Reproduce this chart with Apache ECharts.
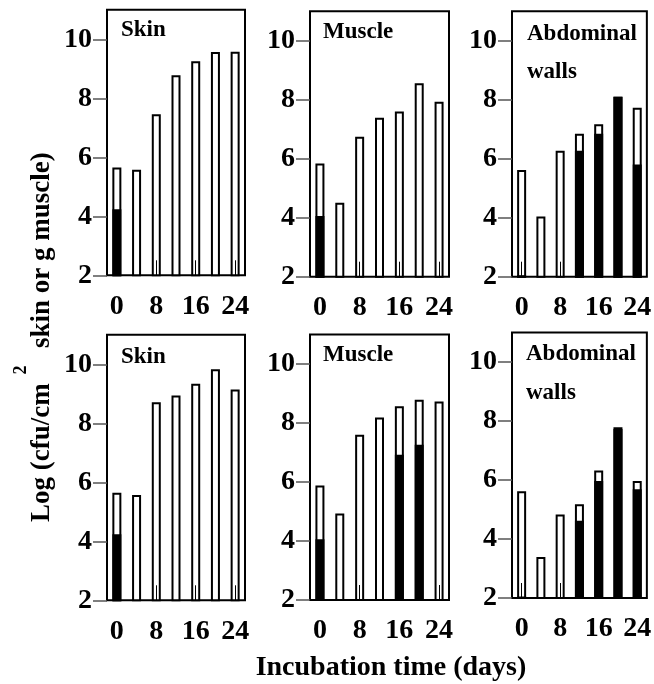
<!DOCTYPE html>
<html>
<head>
<meta charset="utf-8">
<script src="https://cdn.jsdelivr.net/npm/echarts@6/dist/echarts.min.js"></script>
<style>
  html, body { margin: 0; padding: 0; background: #fff; }
  #chart { width: 654px; height: 684px; }
</style>
</head>
<body>
<div id="chart"></div>
<script>
// Incubation time categories (days) and the tick labels shown under each panel
const days = ['0', '4', '8', '12', '16', '20', '24'];
const yTickValues = [2, 4, 6, 8, 10];

// Panel names
const panelNames = ['Skin', 'Muscle', 'Abdominal\nwalls', 'Skin', 'Muscle', 'Abdominal\nwalls'];

// Upper row: total counts (open bars) and sub-counts (filled bars)
const skinTopTotal   = [5.65, 5.58, 7.46, 8.78, 9.26, 9.57, 9.58];
const skinTopFilled  = [4.24, null, null, null, null, null, null];
const muscleTopTotal = [5.84, 4.51, 6.74, 7.39, 7.60, 8.56, 7.93];
const muscleTopFilled = [4.06, null, null, null, null, null, null];
const abdTopTotal    = [5.62, 4.04, 6.27, 6.85, 7.17, 8.10, 7.73];
const abdTopFilled   = [2.05, null, null, 6.27, 6.85, 8.10, 5.80];

// Lower row
const skinBotTotal   = [5.65, 5.57, 8.71, 8.94, 9.34, 9.83, 9.15];
const skinBotFilled  = [4.24, null, null, null, null, null, null];
const muscleBotTotal = [5.88, 4.93, 7.60, 8.19, 8.57, 8.79, 8.73];
const muscleBotFilled = [4.06, null, null, null, 6.92, 7.26, null];
const abdBotTotal    = [5.62, 3.39, 4.83, 5.18, 6.32, 7.79, 5.97];
const abdBotFilled   = [2.05, null, null, 4.62, 5.97, 7.73, 5.69];

const totals = [skinTopTotal, muscleTopTotal, abdTopTotal, skinBotTotal, muscleBotTotal, abdBotTotal];
const filled = [skinTopFilled, muscleTopFilled, abdTopFilled, skinBotFilled, muscleBotFilled, abdBotFilled];

// Panel geometry
const FONT = 'Liberation Serif';
const colLeft = [107, 310, 512];
const colWidth = [138, 139, 138];
const panelBottom = [275.3, 276.7, 276.7, 600.3, 600.0, 598.0];
const plotHeight = 265.5;          // y range 2..11
const labelPos = [
  [121, 30.5], [323, 32], [527, 33.7],
  [121, 357.5], [323, 355.5], [526, 354.5]
];

const grids = [], xAxes = [], yAxes = [], series = [], graphics = [];

for (let i = 0; i < 6; i++) {
  const c = i % 3;
  grids.push({
    left: colLeft[c], width: colWidth[c],
    top: panelBottom[i] - plotHeight, height: plotHeight,
    show: true, borderColor: '#000', borderWidth: 2, backgroundColor: 'transparent'
  });
  xAxes.push({
    type: 'category', gridIndex: i, data: days, z: 5,
    axisLine: { show: false },
    axisTick: { show: true, inside: true, length: 15, interval: 1, alignWithLabel: true,
                lineStyle: { color: '#000', width: 1 } },
    axisLabel: { interval: 1, margin: 17, color: '#000', fontFamily: FONT, fontWeight: 'bold', fontSize: 28 },
    splitLine: { show: false }
  });
  yAxes.push({
    type: 'value', gridIndex: i, min: 2, max: 11, interval: 2,
    axisLine: { show: false },
    axisTick: { show: true, length: 14, customValues: yTickValues, lineStyle: { color: '#555', width: 1.5 } },
    axisLabel: { margin: 15, customValues: yTickValues, color: '#000', fontFamily: FONT, fontWeight: 'bold', fontSize: 28 },
    splitLine: { show: false }
  });
  series.push({
    type: 'bar', xAxisIndex: i, yAxisIndex: i, data: totals[i],
    barWidth: 9, barGap: '-100%', silent: true, z: 2,
    itemStyle: { color: '#fff', borderColor: '#000', borderWidth: 2 }
  });
  series.push({
    type: 'bar', xAxisIndex: i, yAxisIndex: i, data: filled[i],
    barWidth: 9, barGap: '-100%', silent: true, z: 3,
    itemStyle: { color: '#000', borderColor: '#000', borderWidth: 2 }
  });
  const lines = panelNames[i].split('\n');
  lines.forEach((t, k) => {
    graphics.push({
      type: 'text', x: labelPos[i][0], y: labelPos[i][1] + k * 38.5,
      style: { text: t, fill: '#000', font: 'bold 23px "' + FONT + '"', align: 'left', verticalAlign: 'middle' }
    });
  });
}

// Axis titles
graphics.push({
  type: 'text', x: 391, y: 667.5,
  style: { text: 'Incubation time (days)', fill: '#000', font: 'bold 28px "' + FONT + '"', align: 'center', verticalAlign: 'middle' }
});
graphics.push({
  type: 'text', x: 42.5, y: 522, rotation: Math.PI / 2,
  style: { text: 'Log (cfu/cm', fill: '#000', font: 'bold 27px "' + FONT + '"', align: 'left', verticalAlign: 'middle' }
});
graphics.push({
  type: 'text', x: 21, y: 370, rotation: Math.PI / 2,
  style: { text: '2', fill: '#000', font: 'bold 18px "' + FONT + '"', align: 'center', verticalAlign: 'middle' }
});
graphics.push({
  type: 'text', x: 42.5, y: 348, rotation: Math.PI / 2,
  style: { text: 'skin or g muscle)', fill: '#000', font: 'bold 27px "' + FONT + '"', align: 'left', verticalAlign: 'middle' }
});

const chart = echarts.init(document.getElementById('chart'), null, { renderer: 'canvas' });
chart.setOption({
  animation: false,
  backgroundColor: '#fff',
  grid: grids,
  xAxis: xAxes,
  yAxis: yAxes,
  series: series,
  graphic: graphics
});
</script>
</body>
</html>
